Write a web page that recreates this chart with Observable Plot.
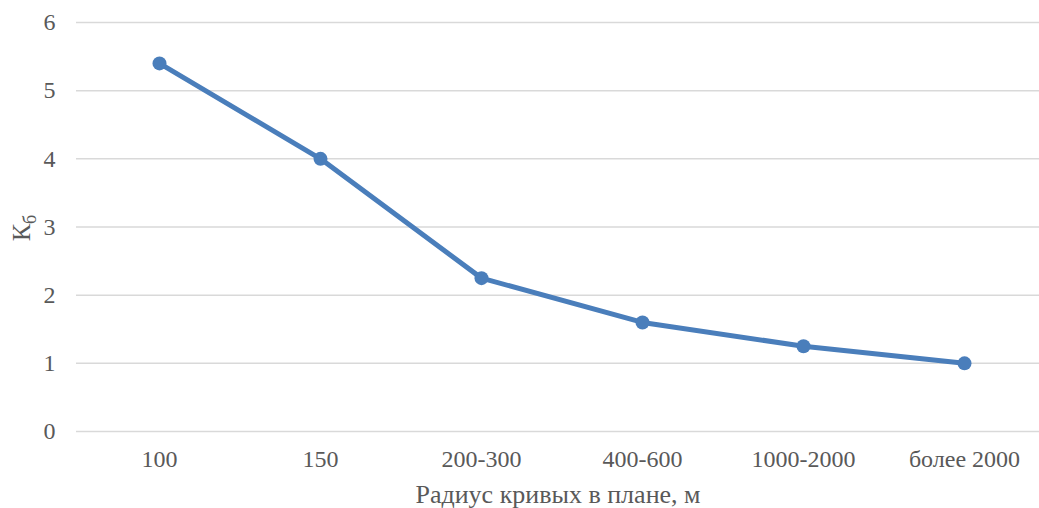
<!DOCTYPE html>
<html>
<head>
<meta charset="utf-8">
<script src="https://cdn.jsdelivr.net/npm/d3@7"></script>
<script src="https://cdn.jsdelivr.net/npm/@observablehq/plot@0.6"></script>
<style>
  html, body { margin: 0; padding: 0; background: #fff; }
  #chart svg { display: block; }
  #chart svg text { font-family: "Liberation Serif", "Times New Roman", serif; }
</style>
</head>
<body>
<div id="chart"></div>
<script>
// Curve radius categories and the corresponding coefficient Kб
const radii = ["100", "150", "200-300", "400-600", "1000-2000", "более 2000"];
const kValues = [5.4, 4.0, 2.25, 1.6, 1.25, 1.0];
const yTicks = [0, 1, 2, 3, 4, 5, 6];

const data = radii.map((r, i) => ({radius: r, k: kValues[i]}));

const font = "Liberation Serif";
const textColor = "#595959";
const lineColor = "#4a7ebb";

const chart = Plot.plot({
  width: 1039,
  height: 508,
  marginLeft: 76,
  marginRight: 0,
  marginTop: 22,
  marginBottom: 77,
  style: {fontFamily: font, fontSize: "24px", color: textColor, background: "#fff"},
  x: {type: "point", domain: radii, padding: 0.5, range: [76, 1046], label: null},
  y: {domain: [0, 6], label: null},
  marks: [
    Plot.ruleY(yTicks, {stroke: "#d9d9d9", strokeWidth: 1.5}),
    Plot.axisY({ticks: yTicks, tickFormat: d => String(d), tickSize: 0, tickPadding: 21, fontSize: 24, fill: textColor, fontFamily: font, label: null}),
    Plot.axisX({tickSize: 0, tickPadding: 18, fontSize: 24, fill: textColor, fontFamily: font, label: null}),
    Plot.line(data, {x: "radius", y: "k", stroke: lineColor, strokeWidth: 5, strokeLinejoin: "round"}),
    Plot.dot(data, {x: "radius", y: "k", r: 7, fill: lineColor, stroke: "none"}),
    Plot.text(["Радиус кривых в плане, м"], {frameAnchor: "bottom", dy: 71, fontSize: 26, fill: textColor, fontFamily: font})
  ]
});

// Rotated y-axis title with a subscript
const svg = d3.select(chart);
const yTitle = svg.append("text")
  .attr("transform", "translate(30,228) rotate(-90)")
  .attr("text-anchor", "middle")
  .attr("fill", textColor)
  .style("font-size", "26px");
yTitle.append("tspan").text("К");
yTitle.append("tspan").attr("font-size", "18px").attr("dy", "6").text("б");

document.getElementById("chart").append(chart);
</script>
</body>
</html>
